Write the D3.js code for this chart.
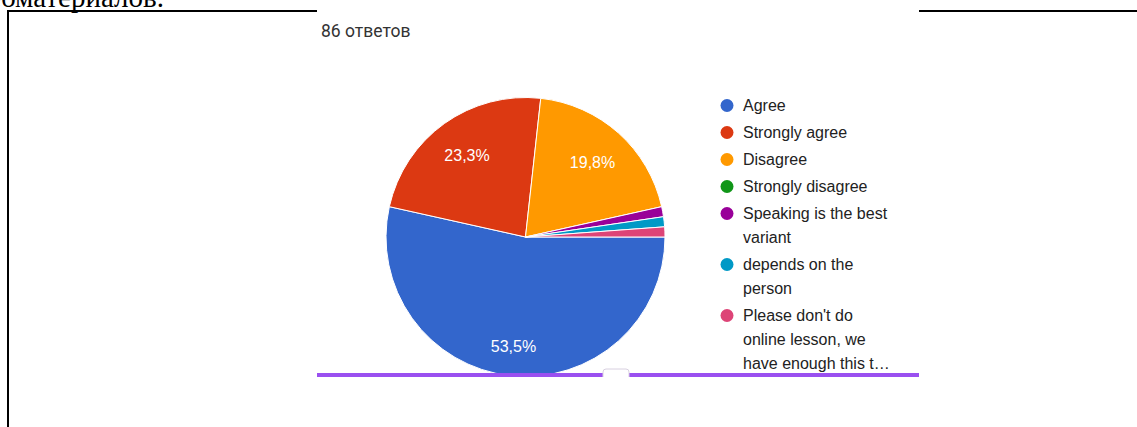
<!DOCTYPE html>
<html>
<head>
<meta charset="utf-8">
<script src="https://cdn.jsdelivr.net/npm/d3@7/dist/d3.min.js"></script>
<style>
html,body{margin:0;padding:0;background:#fff;}
svg{display:block;}
</style>
</head>
<body>
<svg id="chart" width="1137" height="427"></svg>
<script>
const categories = ["Agree", "Strongly agree", "Disagree", "Strongly disagree", "Speaking is the best variant", "depends on the person", "Please don't do online lesson, we have enough this t..."];
const legendLines = [["Agree"], ["Strongly agree"], ["Disagree"], ["Strongly disagree"], ["Speaking is the best", "variant"], ["depends on the", "person"], ["Please don't do", "online lesson, we", "have enough this t…"]];
const counts = [46, 20, 17, 0, 1, 1, 1];
const percentLabels = ["53,5%", "23,3%", "19,8%", "", "", "", ""];
const colors = ["#3366cc", "#dc3912", "#ff9900", "#109618", "#990099", "#0099c6", "#dd4477"];
const responsesText = "86 ответов";
const docText = "видеоматериалов.";

const svg = d3.select("#chart");
const defs = svg.append("defs");
svg.append("rect").attr("width", 1137).attr("height", 427).attr("fill", "#fff");

// document text cut at top
svg.append("text").attr("x", 164).attr("y", 7).attr("text-anchor", "end")
  .attr("font-family", "Liberation Serif, Times New Roman, serif").attr("font-size", 29)
  .attr("fill", "#000").text(docText);

// document frame
svg.append("line").attr("x1", 8).attr("x2", 8).attr("y1", 10).attr("y2", 427).attr("stroke", "#000").attr("stroke-width", 2);
svg.append("line").attr("x1", 7).attr("x2", 1137).attr("y1", 11).attr("y2", 11).attr("stroke", "#000").attr("stroke-width", 2);

// screenshot panel
const panel = svg.append("g");
panel.append("rect").attr("x", 317).attr("y", 9).attr("width", 602).attr("height", 368).attr("fill", "#fff");

panel.append("text").attr("x", 321).attr("y", 37).attr("font-family", "Roboto, Arial, sans-serif")
  .attr("font-size", 17.5).attr("fill", "#333").text(responsesText);

// pie
const cx = 525.5, cy = 237, r = 139.5;
defs.append("clipPath").attr("id", "pclip")
  .append("rect").attr("x", 317).attr("y", 12).attr("width", 602).attr("height", 362);

const pie = d3.pie().sort(null).value(d => d).startAngle(Math.PI / 2).endAngle(Math.PI / 2 + 2 * Math.PI);
const arcs = pie(counts);
const arc = d3.arc().innerRadius(0).outerRadius(r);
const labelPos = d => {
  const k = (d.endAngle - d.startAngle) > Math.PI ? 0.79 : 0.72;
  return d3.arc().innerRadius(r * k).outerRadius(r * k).centroid(d);
};

const pg = panel.append("g").attr("clip-path", "url(#pclip)").append("g").attr("transform", `translate(${cx},${cy})`);
pg.selectAll("path").data(arcs).join("path")
  .attr("d", arc).attr("fill", (d, i) => colors[i])
  .attr("stroke", "#fff").attr("stroke-width", d => d.data > 0 ? 1 : 0);

pg.selectAll("text.pl").data(arcs).join("text").attr("class", "pl")
  .attr("transform", d => `translate(${labelPos(d)})`)
  .attr("text-anchor", "middle").attr("dy", "0.35em")
  .attr("font-family", "Arial, Liberation Sans, sans-serif").attr("font-size", 16)
  .attr("fill", "#fff").text((d, i) => percentLabels[i]);

// bottom purple bar with handle
panel.append("rect").attr("x", 317).attr("y", 373).attr("width", 602).attr("height", 4).attr("fill", "#9a50f0");
panel.append("path").attr("d", "M603,377 L603,372 Q603,369 606,369 L626,369 Q629,369 629,372 L629,377")
  .attr("fill", "#fff").attr("stroke", "#d8d0e0").attr("stroke-width", 1);

// legend
const lg = panel.append("g");
let y = 105.5;
legendLines.forEach((lines, i) => {
  lg.append("circle").attr("cx", 727).attr("cy", y).attr("r", 6.5).attr("fill", colors[i]);
  lines.forEach((ln, j) => {
    lg.append("text").attr("x", 743).attr("y", y + j * 24).attr("dy", "0.35em")
      .attr("font-family", "Arial, Liberation Sans, sans-serif").attr("font-size", 16)
      .attr("fill", "#222").text(ln);
  });
  y += (lines.length - 1) * 24 + 27;
});
</script>
</body>
</html>
